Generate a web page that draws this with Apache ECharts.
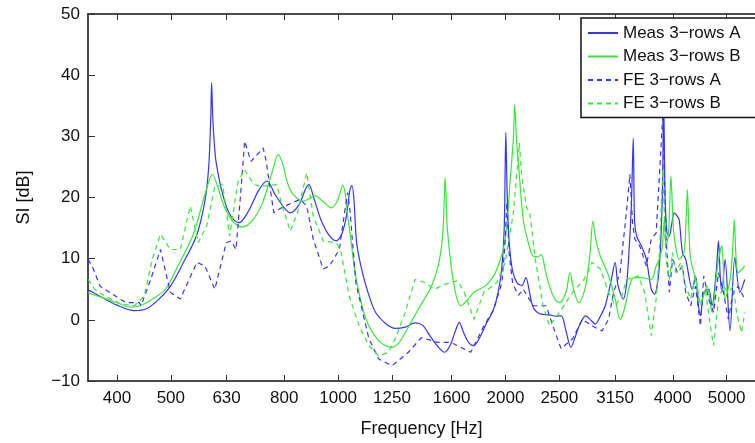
<!DOCTYPE html>
<html>
<head>
<meta charset="utf-8">
<script src="https://cdn.jsdelivr.net/npm/echarts@6/dist/echarts.min.js"></script>
<style>
html,body{margin:0;padding:0;background:#fff;}
#chart{width:755px;height:443px;}
</style>
</head>
<body>
<div id="chart"></div>
<script>
// Frequency tick labels (Hz) and dB ticks
const xTickLabels = [400,500,630,800,1000,1250,1600,2000,2500,3150,4000,5000];
const seriesNames = ['Meas 3\u2212rows A','Meas 3\u2212rows B','FE 3\u2212rows A','FE 3\u2212rows B'];

// [frequency Hz, SI dB]
const measA = [[355,4.9],[372,3.9],[400,2.4],[430,1.5],[452,1.8],[475,3.3],[500,5.6],[527,9.4],[556,13.7],[576,19.5],[585,25],[590,33],[592,38.8],[595,33],[601,27],[608,24],[620,20.5],[634,17.8],[650,16.3],[664,15.9],[690,17.8],[720,21.2],[745,22.7],[770,20.5],[800,18.3],[820,17.5],[850,18.8],[875,21.5],[886,22.1],[905,19.8],[930,16.5],[960,14.0],[992,12.9],[1015,14.0],[1035,17],[1050,21.2],[1059,22.0],[1068,19.5],[1080,12.5],[1106,7.7],[1136,4.0],[1168,1.2],[1217,-0.6],[1267,-1.4],[1320,-1.2],[1375,-0.5],[1420,-0.9],[1460,-2.5],[1510,-4.3],[1554,-5.3],[1590,-4.2],[1630,-1.5],[1652,-0.4],[1680,-2.0],[1720,-3.8],[1756,-4.2],[1800,-2.8],[1850,-0.5],[1900,1.5],[1940,4.5],[1970,8.5],[1990,15],[2003,30.6],[2015,20],[2030,13],[2060,8],[2100,6.0],[2140,5.6],[2177,6.9],[2210,4.5],[2244,2.0],[2305,1.0],[2400,0.8],[2467,0.6],[2520,0.65],[2570,-1.8],[2623,-4.5],[2670,-2.8],[2714,-1.0],[2788,0.65],[2860,-0.2],[2903,-0.7],[2960,0.5],[3024,2.3],[3100,6.5],[3150,9.4],[3190,5.5],[3260,3.4],[3300,5.5],[3330,9.9],[3370,19],[3396,29.7],[3415,16],[3450,13.5],[3512,12.1],[3585,9.9],[3659,5.0],[3709,4.2],[3784,8.8],[3830,20],[3853,35],[3875,20],[3905,14.2],[3943,13.7],[3980,15.5],[4023,17.5],[4070,17],[4107,16.4],[4164,11.0],[4220,9.9],[4337,5.0],[4396,7.2],[4440,3],[4486,0.65],[4548,4.5],[4641,5.0],[4705,2.3],[4790,8],[4834,12.9],[4870,7],[4902,4.5],[4968,9.9],[5071,-1.8],[5174,10.2],[5282,4.5],[5390,6.6]];

const measB = [[355,4.4],[380,3.5],[400,2.8],[421,2.1],[440,2.3],[465,3.5],[489,5.0],[513,8.5],[549,14.0],[576,20.5],[594,23.8],[606,22.0],[618,19.5],[629,17.8],[645,16.2],[660,15.4],[673,15.2],[700,16.2],[730,19.0],[760,24.0],[780,27.0],[795,25.5],[810,22.5],[830,20.5],[866,19.4],[890,19.9],[908,20.3],[940,19.3],[972,18.3],[995,19.3],[1010,21.0],[1019,22.0],[1030,20.5],[1040,17],[1054,13.2],[1068,9],[1084,5.5],[1110,1.5],[1136,-1.0],[1180,-3.3],[1216,-4.2],[1250,-4.5],[1285,-3.8],[1320,-2.1],[1393,1.7],[1472,5.5],[1522,9.9],[1545,15],[1558,23.2],[1572,15],[1597,8.8],[1630,4.0],[1663,2.3],[1710,3.3],[1756,4.5],[1854,5.8],[1931,8.3],[1998,13.2],[2040,22.9],[2068,30],[2078,35.2],[2095,29],[2110,25.7],[2153,16.4],[2200,12.5],[2244,10.4],[2290,10.3],[2320,10.7],[2360,8],[2401,5.5],[2450,3.5],[2502,2.8],[2570,4.5],[2612,7.7],[2660,4.5],[2714,2.8],[2788,5.5],[2840,11],[2873,16.1],[2910,13],[2963,10.4],[3066,7.2],[3150,3.5],[3215,0.1],[3260,1.2],[3304,3.4],[3372,6.6],[3440,6.9],[3512,6.9],[3659,6.6],[3734,8.8],[3784,10],[3830,12],[3863,16.5],[3890,12.1],[3930,14],[3970,23.5],[4000,17],[4023,13.7],[4107,9.9],[4190,11.0],[4220,15],[4249,21.3],[4280,14],[4307,9.9],[4396,6.6],[4486,2.8],[4611,5.5],[4705,1.2],[4815,8.8],[4902,12.1],[4968,3.4],[5071,6.6],[5130,12],[5160,16.4],[5200,10],[5245,7.7],[5390,8.8]];

const feA = [[355,9.9],[362,8.5],[373,5.5],[388,4.5],[415,2.8],[439,2.8],[442,2.3],[460,6.6],[479,11.5],[499,4.5],[520,3.4],[557,9.4],[576,8.8],[600,5.0],[629,12.6],[642,12.9],[655,11.5],[668,20.8],[679,29.2],[697,25.9],[733,28.1],[742,26],[766,17.5],[790,18.3],[854,19.7],[878,18.6],[902,13.2],[940,8.3],[965,8.8],[1005,11.5],[1025,17],[1040,20.8],[1050,18],[1076,6.1],[1136,-3.1],[1183,-6.4],[1250,-7.5],[1338,-5.3],[1412,-2.9],[1512,-3.7],[1597,-3.7],[1732,-5.3],[1829,-1.0],[1905,1.7],[1971,6.1],[1995,12],[2012,19.1],[2030,11],[2060,6],[2110,4.0],[2153,5.0],[2244,2.3],[2368,2.3],[2434,-1.0],[2518,-4.7],[2641,-3.1],[2751,0.1],[2864,-1.0],[2984,-1.8],[3066,0.1],[3130,4.5],[3215,7.7],[3304,18.0],[3349,23.8],[3385,16],[3418,13.2],[3488,12.1],[3585,8.8],[3659,13.2],[3734,14.2],[3784,23.5],[3838,33.5],[3889,13.7],[3943,4.5],[3997,9.9],[4079,7.7],[4164,8.8],[4220,4.5],[4307,2.3],[4396,5.5],[4486,-1.0],[4548,7.2],[4641,3.4],[4737,1.2],[4834,7.7],[4934,4.5],[5036,0.1],[5139,4.5],[5245,5.5],[5390,3.4]];

const feB = [[355,6.6],[365,5.0],[380,3.9],[407,2.6],[430,2.3],[448,3.9],[463,9.9],[479,14.0],[499,11.5],[520,11.5],[542,18.6],[560,12.6],[580,15.3],[600,21.8],[620,22.1],[638,13.7],[660,22.4],[678,24.6],[706,22.1],[726,21.8],[776,22.1],[790,19.1],[820,14.5],[845,17.5],[878,24.0],[902,17.0],[940,12.9],[992,12.6],[1010,11.5],[1047,3.9],[1091,-1.0],[1136,-4.2],[1183,-5.9],[1233,-5.3],[1267,-3.1],[1320,1.2],[1375,6.6],[1432,6.1],[1492,5.0],[1554,5.8],[1640,6.4],[1686,4.5],[1756,0.1],[1829,4.5],[1931,6.1],[1998,9.4],[2067,17.5],[2119,28.9],[2139,23.5],[2183,18.3],[2213,17.5],[2259,10.4],[2337,2.3],[2401,-1.0],[2502,1.2],[2641,4.5],[2770,6.6],[2864,9.4],[2963,8.3],[3066,4.5],[3150,2.3],[3237,3.9],[3304,6.6],[3466,7.2],[3560,4.5],[3659,-2.6],[3734,3.4],[3784,11.0],[3838,24.6],[3889,9.9],[3943,6.6],[3997,11.0],[4051,7.7],[4135,9.4],[4220,5.5],[4307,3.4],[4396,7.2],[4486,2.3],[4579,5.0],[4673,-1.0],[4737,-4.2],[4834,3.4],[4934,5.5],[5036,4.5],[5139,5.5],[5210,1.2],[5318,-2.1],[5390,1.2]];

const FONT = "'Liberation Sans', Arial, Helvetica, sans-serif";
const BLUE = '#3535f5';
const GREEN = '#36e836';
const toLog = arr => arr.map(p => [Math.log10(p[0]), p[1]]);
const tickPos = xTickLabels.map(v => Math.log10(v));
const fmtX = v => {
  let best = xTickLabels[0], d = Infinity;
  xTickLabels.forEach(t => { const dd = Math.abs(Math.log10(t) - v); if (dd < d) { d = dd; best = t; } });
  return String(best);
};

const chart = echarts.init(document.getElementById('chart'), null, {renderer: 'canvas'});
const axisLineStyle = {color: '#111', width: 1.5};
chart.setOption({
  animation: false,
  backgroundColor: '#fff',
  textStyle: {fontFamily: FONT},
  grid: {left: 88, top: 14, right: -10, bottom: 61, containLabel: false},
  legend: {
    orient: 'vertical', left: 581, top: 18,
    padding: [5, 30, 4, 6],
    itemWidth: 30, itemHeight: 14, itemGap: 3.5,
    itemStyle: {opacity: 0, borderWidth: 0},
    backgroundColor: '#fff', borderColor: '#111', borderWidth: 1.5, borderRadius: 0,
    textStyle: {fontFamily: FONT, fontSize: 17, color: '#111', lineHeight: 20},
    data: seriesNames
  },
  xAxis: [{
    type: 'value', min: Math.log10(354.8), max: 3.75,
    name: 'Frequency [Hz]', nameLocation: 'middle', nameGap: 39,
    nameTextStyle: {fontFamily: FONT, fontSize: 18, color: '#111'},
    axisLine: {show: true, onZero: false, lineStyle: axisLineStyle},
    axisTick: {show: true, inside: true, length: 6, customValues: tickPos, lineStyle: {color: '#333', width: 1}},
    axisLabel: {show: true, customValues: tickPos, formatter: fmtX, fontFamily: FONT, fontSize: 17, color: '#111', margin: 9},
    splitLine: {show: false}
  }, {
    type: 'value', position: 'top', min: Math.log10(354.8), max: 3.75,
    axisLine: {show: true, onZero: false, lineStyle: axisLineStyle},
    axisTick: {show: true, inside: true, length: 6, customValues: tickPos, lineStyle: {color: '#333', width: 1}},
    axisLabel: {show: false},
    splitLine: {show: false}
  }],
  yAxis: {
    type: 'value', min: -10, max: 50, interval: 10,
    name: 'SI [dB]', nameLocation: 'middle', nameGap: 55,
    nameTextStyle: {fontFamily: FONT, fontSize: 18, color: '#111'},
    axisLine: {show: true, onZero: false, lineStyle: axisLineStyle},
    axisTick: {show: true, inside: true, length: 7, lineStyle: {color: '#333', width: 1}},
    axisLabel: {fontFamily: FONT, fontSize: 17, color: '#111', margin: 8,
      formatter: v => String(v).replace('-', '\u2212')},
    splitLine: {show: false}
  },
  series: [
    {name: seriesNames[0], type: 'line', data: toLog(measA), symbol: 'none', smooth: 0.3,
     lineStyle: {color: BLUE, width: 1.2}, itemStyle: {color: BLUE}},
    {name: seriesNames[1], type: 'line', data: toLog(measB), symbol: 'none', smooth: 0.3,
     lineStyle: {color: GREEN, width: 1.2}, itemStyle: {color: GREEN}},
    {name: seriesNames[2], type: 'line', data: toLog(feA), symbol: 'none',
     lineStyle: {color: BLUE, width: 1.2, type: [5, 4]}, itemStyle: {color: BLUE}},
    {name: seriesNames[3], type: 'line', data: toLog(feB), symbol: 'none',
     lineStyle: {color: GREEN, width: 1.2, type: [5, 4]}, itemStyle: {color: GREEN}}
  ]
});
</script>
</body>
</html>
